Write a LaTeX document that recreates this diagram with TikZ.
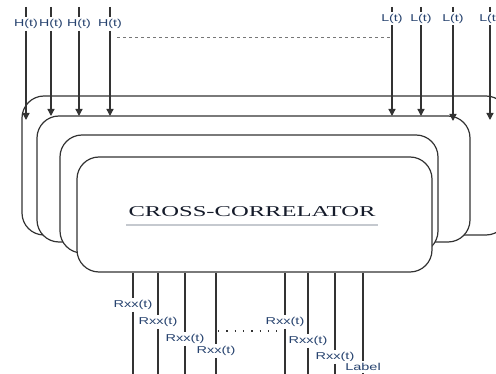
\documentclass[tikz,border=0pt]{standalone}
\usepackage{fontspec}
\setmainfont{Liberation Serif}
\newfontfamily\lblfont{Liberation Sans}
\usetikzlibrary{arrows.meta}
\definecolor{lnc}{HTML}{333333}
\definecolor{lblc}{HTML}{27436F}
\definecolor{ttlc}{HTML}{151B2A}
\definecolor{ulc}{HTML}{C5C9CF}
\definecolor{dshc}{HTML}{777777}
\begin{document}
\begin{tikzpicture}[x=1pt,y=-1pt,
  cbox/.style={draw=lnc, line width=1.2pt, fill=white, rounded corners=22pt, inner sep=0pt},
  lbl/.style={font=\lblfont\fontsize{10}{11}\selectfont, text=lblc, fill=white, inner sep=2pt},
  wire/.style={draw=lnc, line width=1.3pt},
  arr/.style={wire, -{Triangle[width=7pt,length=7pt]}},
  ttl/.style={font=\fontsize{15}{17}\selectfont, text=ttlc, inner sep=0pt}
]
\clip (0,0) rectangle (496,374);
% stacked boxes, back to front
\node[cbox, minimum width=486pt, minimum height=139pt] (b1) at (265,165.5) {};
\node[cbox, minimum width=433pt, minimum height=126pt] (b2) at (253.5,179) {};
\node[cbox, minimum width=378pt, minimum height=118pt] (b3) at (249,194) {};
\node[cbox, minimum width=355pt, minimum height=115pt] (b4) at (254.5,214.5) {};
% title
\node[ttl] (title) at (252,212) {\scalebox{1.64}[1]{CROSS-CORRELATOR}};
\coordinate (ul1) at (126,225);
\coordinate (ul2) at (378,225);
\draw[ulc, line width=1.5pt] (ul1) -- (ul2);

% H(t) inputs
\foreach \i/\x/\e in {1/26/120,2/51/116,3/79/116,4/110/116}{
  \coordinate (ht\i) at (\x,7);
  \coordinate (he\i) at (\x,\e);
  \node[lbl] (h\i) at (\x,24) {\scalebox{1.42}[1]{H(t)}};
  \draw[wire] (ht\i) -- (h\i);
  \draw[arr] (h\i) -- (he\i);
}
% L(t) inputs
\foreach \i/\x/\e in {1/392/116,2/421/116,3/453/121,4/490/120}{
  \coordinate (lt\i) at (\x,7);
  \coordinate (le\i) at (\x,\e);
  \node[lbl] (l\i) at (\x,18.5) {\scalebox{1.42}[1]{L(t)}};
  \draw[wire] (lt\i) -- (l\i);
  \draw[arr] (l\i) -- (le\i);
}
% dashed link between inputs
\coordinate (da) at (117,37);
\coordinate (db) at (392,37);
\draw[dshc, line width=0.8pt, dash pattern=on 3pt off 3pt] (da) -- (db);

% outputs
\foreach \i/\x/\y/\t in {1/133/305/Rxx(t),2/158/322/Rxx(t),3/185/339/Rxx(t),4/216/351/Rxx(t),5/285/322/Rxx(t),6/308/341/Rxx(t),7/335/357/Rxx(t),8/363/367/Label}{
  \coordinate (ob\i) at (\x,380);
  \node[lbl] (r\i) at (\x,\y) {\scalebox{1.45}[1]{\t}};
  \draw[wire] (b4.south -| ob\i) -- (r\i) -- (ob\i);
}
% dotted link between outputs
\coordinate (dc) at (218,331);
\coordinate (dd) at (284,331);
\draw[lnc, line width=1.3pt, dash pattern=on 1.3pt off 7pt] (dc) -- (dd);
\end{tikzpicture}
\end{document}
